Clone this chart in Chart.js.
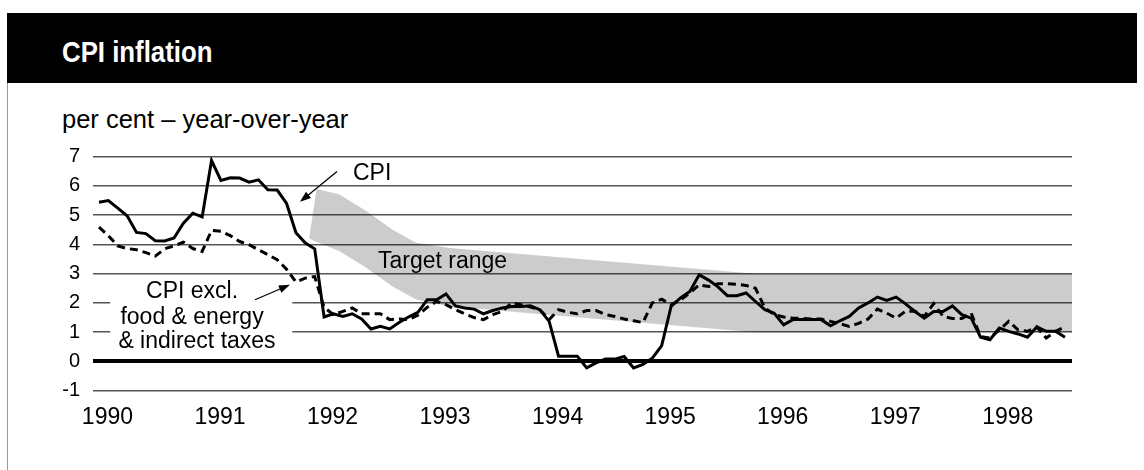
<!DOCTYPE html>
<html>
<head>
<meta charset="utf-8">
<title>CPI inflation</title>
<script src="https://cdn.jsdelivr.net/npm/chart.js@4.4.1/dist/chart.umd.min.js"></script>
<style>
  html, body { margin: 0; padding: 0; background: #fff; }
  #wrap { position: relative; width: 1144px; height: 470px; overflow: hidden; font-family: "Liberation Sans", Arial, sans-serif; }
  #head { position: absolute; left: 7px; top: 13px; width: 1130px; height: 70px; background: #000; }
  #title { position: absolute; left: 62px; top: 37px; color: #fff; font: bold 30px/1 "Liberation Sans", Arial, sans-serif; transform: scaleX(0.86); transform-origin: 0 0; white-space: nowrap; }
  #frame { position: absolute; left: 7px; top: 83px; height: 387px; border-left: 1px solid #999; }
  #unit { position: absolute; left: 62px; top: 107px; font-size: 25.5px; line-height: 1; color: #000; white-space: nowrap; }
  canvas { position: absolute; left: 0; top: 0; }
</style>
</head>
<body>
<div id="wrap">
  <div id="head"></div>
  <div id="title">CPI inflation</div>
  <div id="frame"></div>
  <div id="unit">per cent – year-over-year</div>
  <canvas id="cpi-chart" width="1144" height="470"></canvas>
</div>
<script>
// Mensual, enero 1990 = mes 0
const yearLabels = ['1990', '1991', '1992', '1993', '1994', '1995', '1996', '1997', '1998'];

const cpi = [
  5.44, 5.50, 5.24, 4.98, 4.41, 4.37, 4.13, 4.12, 4.22, 4.73, 5.07, 4.94,
  6.87, 6.19, 6.28, 6.27, 6.13, 6.21, 5.87, 5.86, 5.40, 4.40, 4.05, 3.85,
  1.52, 1.63, 1.54, 1.63, 1.45, 1.11, 1.20, 1.11, 1.33, 1.52, 1.68, 2.11,
  2.11, 2.31, 1.90, 1.83, 1.79, 1.63, 1.74, 1.83, 1.88, 1.88, 1.90, 1.77,
  1.37, 0.18, 0.18, 0.18, -0.22, -0.05, 0.08, 0.08, 0.17, -0.22, -0.10, 0.11,
  0.54, 1.88, 2.17, 2.39, 2.96, 2.78, 2.55, 2.25, 2.25, 2.34, 2.05, 1.77,
  1.65, 1.25, 1.43, 1.43, 1.43, 1.43, 1.22, 1.39, 1.54, 1.83, 2.00, 2.20,
  2.09, 2.20, 1.97, 1.71, 1.48, 1.71, 1.71, 1.90, 1.60, 1.48, 0.83, 0.74,
  1.14, 1.03, 0.94, 0.83, 1.18, 1.03, 1.03, 0.83
];

const cpiCore = [
  4.59, 4.30, 3.95, 3.86, 3.82, 3.72, 3.60, 3.85, 3.95, 4.08, 3.86, 3.76,
  4.48, 4.45, 4.30, 4.10, 3.99, 3.82, 3.65, 3.48, 3.15, 2.72, 2.85, 2.90,
  1.85, 1.60, 1.71, 1.83, 1.63, 1.63, 1.63, 1.43, 1.45, 1.43, 1.58, 1.85,
  2.05, 1.94, 1.77, 1.63, 1.50, 1.43, 1.60, 1.71, 2.00, 1.94, 1.86, 1.77,
  1.43, 1.77, 1.68, 1.63, 1.74, 1.74, 1.60, 1.54, 1.45, 1.39, 1.33, 2.00,
  2.13, 1.94, 2.10, 2.34, 2.62, 2.56, 2.66, 2.66, 2.64, 2.60, 2.50, 1.83,
  1.60, 1.52, 1.48, 1.47, 1.45, 1.45, 1.37, 1.29, 1.20, 1.30, 1.45, 1.79,
  1.65, 1.48, 1.72, 1.72, 1.54, 1.98, 1.54, 1.47, 1.47, 1.65, 0.85, 0.80,
  1.08, 1.37, 1.08, 1.03, 1.18, 0.80, 1.03, 1.18
];

// Banda objetivo (mes, límite superior, límite inferior)
const bandMonths = [22.4, 23.2, 25.6, 28.5, 31.3, 33.8, 37.4, 70, 103.75];
const bandHigh = [4.2, 5.9, 5.72, 5.14, 4.5, 4.06, 3.88, 3.0, 3.0];
const bandLow = [4.2, 4.08, 3.78, 3.2, 2.56, 2.12, 1.88, 1.0, 1.0];

const toPoints = (xs, ys) => ys.map((v, i) => ({ x: xs ? xs[i] : i, y: v }));

const FONT = '"Liberation Sans", Arial, sans-serif';

function drawArrow(c, x1, y1, x2, y2) {
    const ang = Math.atan2(y2 - y1, x2 - x1);
    const len = 11, wid = 4;
    c.beginPath();
    c.moveTo(x1, y1);
    c.lineTo(x2 - Math.cos(ang) * len * 0.8, y2 - Math.sin(ang) * len * 0.8);
    c.lineWidth = 1.3;
    c.strokeStyle = '#000';
    c.stroke();
    c.beginPath();
    c.moveTo(x2, y2);
    c.lineTo(x2 - Math.cos(ang) * len + Math.sin(ang) * wid, y2 - Math.sin(ang) * len - Math.cos(ang) * wid);
    c.lineTo(x2 - Math.cos(ang) * len - Math.sin(ang) * wid, y2 - Math.sin(ang) * len + Math.cos(ang) * wid);
    c.closePath();
    c.fillStyle = '#000';
    c.fill();
}

// Etiquetas y flechas, ubicadas en unidades de datos (mes, por ciento)
const annotations = {
    id: 'annotations',
    beforeDatasetsDraw(chart) {
        const { x, y } = chart.scales;
        const c = chart.ctx;
        c.save();
        c.fillStyle = '#fff';
        const l = x.getPixelForValue(1.2), r = x.getPixelForValue(20.6);
        const t = y.getPixelForValue(2.79), b = y.getPixelForValue(0.33);
        c.fillRect(l, t, r - l, b - t);
        c.restore();
    },
    afterDatasetsDraw(chart) {
        const { x, y } = chart.scales;
        const c = chart.ctx;
        c.save();
        c.fillStyle = '#000';
        c.font = '23px ' + FONT;
        c.textBaseline = 'alphabetic';
        c.textAlign = 'center';
        c.fillText('CPI excl.', x.getPixelForValue(9.92), y.getPixelForValue(2.16));
        c.fillText('food & energy', x.getPixelForValue(9.92), y.getPixelForValue(1.29));
        c.fillText('& indirect taxes', x.getPixelForValue(10.45), y.getPixelForValue(0.45));
        c.textAlign = 'left';
        c.fillText('CPI', x.getPixelForValue(27.08), y.getPixelForValue(6.21));
        c.fillText('Target range', x.getPixelForValue(29.75), y.getPixelForValue(3.2));
        drawArrow(c, x.getPixelForValue(25.38), y.getPixelForValue(6.49), x.getPixelForValue(21.43), y.getPixelForValue(5.46));
        drawArrow(c, x.getPixelForValue(16.63), y.getPixelForValue(2.11), x.getPixelForValue(20.36), y.getPixelForValue(2.62));
        c.restore();
    }
};

const ctx = document.getElementById('cpi-chart').getContext('2d');

new Chart(ctx, {
    type: 'line',
    data: {
        datasets: [
            {
                label: 'CPI',
                data: toPoints(null, cpi),
                borderColor: '#000',
                borderWidth: 3,
                pointRadius: 0,
                fill: false,
                tension: 0
            },
            {
                label: 'CPI excl. food & energy & indirect taxes',
                data: toPoints(null, cpiCore),
                borderColor: '#000',
                borderWidth: 3,
                borderDash: [8, 5],
                pointRadius: 0,
                fill: false,
                tension: 0
            },
            {
                label: 'target low',
                data: toPoints(bandMonths, bandLow),
                borderWidth: 0,
                borderColor: 'rgba(0,0,0,0)',
                pointRadius: 0,
                fill: false
            },
            {
                label: 'target high',
                data: toPoints(bandMonths, bandHigh),
                borderWidth: 0,
                borderColor: 'rgba(0,0,0,0)',
                backgroundColor: 'rgba(0,0,0,0.2)',
                pointRadius: 0,
                fill: 2
            }
        ]
    },
    options: {
        responsive: false,
        animation: false,
        devicePixelRatio: 1,
        layout: { padding: { top: 156.7, right: 72, left: 0, bottom: 0 } },
        plugins: {
            legend: { display: false },
            tooltip: { enabled: false }
        },
        scales: {
            x: {
                type: 'linear',
                min: -0.64,
                max: 103.75,
                grid: { display: false, drawTicks: false },
                border: { display: false },
                afterBuildTicks: (scale) => {
                    scale.ticks = yearLabels.map((_, i) => ({ value: i * 12 + 0.9 }));
                },
                afterFit: (scale) => { scale.height = 470 - 390.7; },
                ticks: {
                    autoSkip: false,
                    maxRotation: 0,
                    padding: 13.5,
                    color: '#000',
                    font: { family: FONT, size: 23 },
                    callback: (value, index) => yearLabels[index]
                }
            },
            y: {
                min: -1,
                max: 7,
                afterFit: (scale) => { scale.width = 93; },
                border: { display: false },
                grid: {
                    drawTicks: false,
                    color: (c) => c.tick && c.tick.value === 0 ? '#000' : '#555',
                    lineWidth: (c) => c.tick && c.tick.value === 0 ? 4 : 1.5
                },
                ticks: {
                    stepSize: 1,
                    padding: 13,
                    color: '#000',
                    font: { family: FONT, size: 20 }
                }
            }
        }
    },
    plugins: [annotations]
});
</script>
</body>
</html>
